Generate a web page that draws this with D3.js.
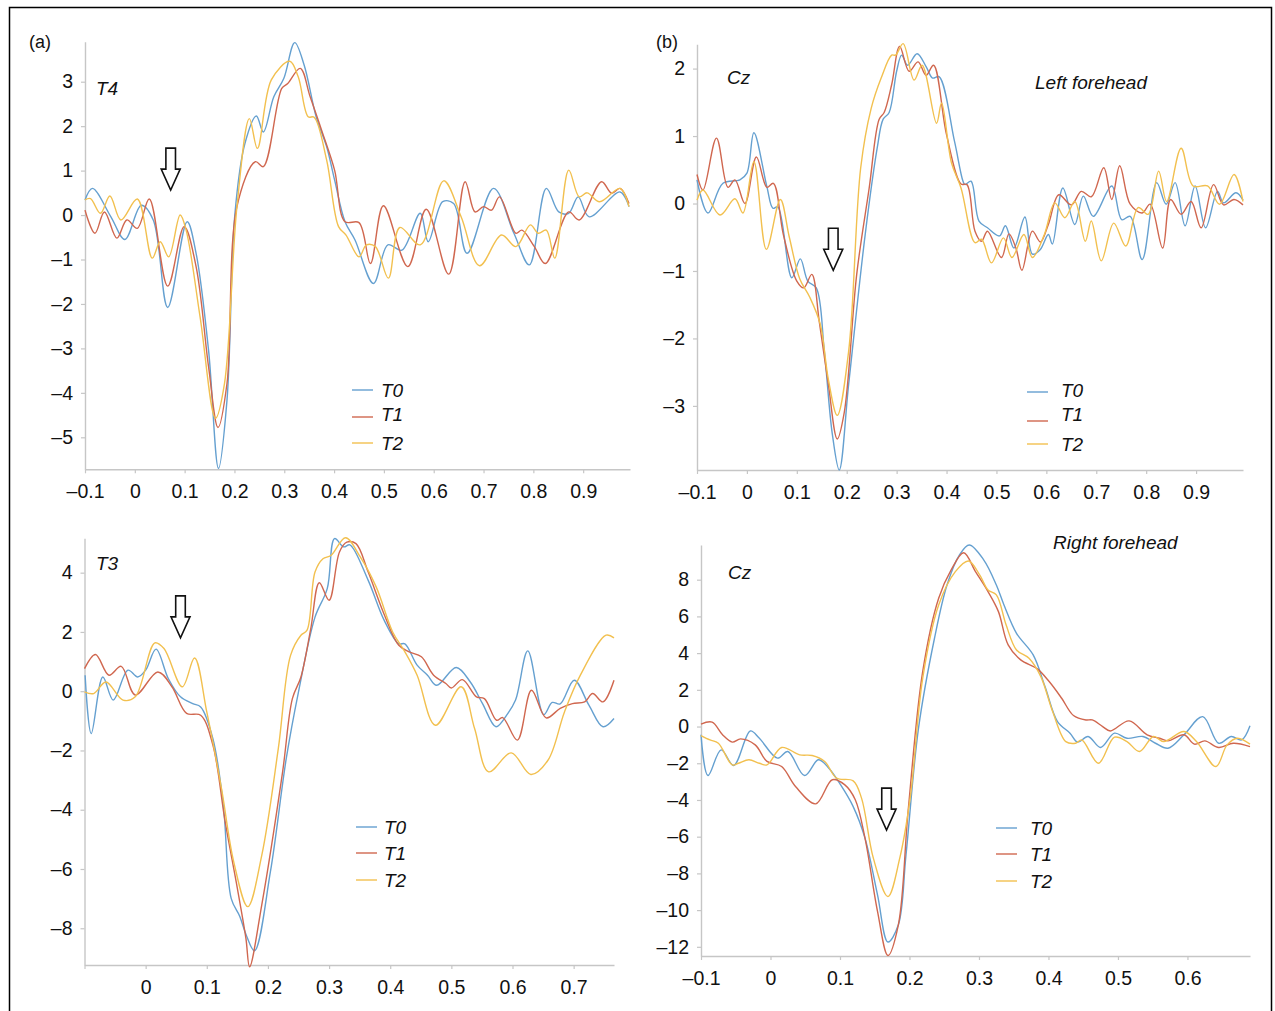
<!DOCTYPE html>
<html>
<head>
<meta charset="utf-8">
<script src="https://cdn.jsdelivr.net/npm/d3@7/dist/d3.min.js"></script>
<style>
  html, body { margin: 0; padding: 0; background: #fff; }
  svg { display: block; font-family: "Liberation Sans", Arial, sans-serif; }
</style>
</head>
<body>
<svg id="chart" width="1275" height="1011"></svg>
<script>
// ---------------- DATA ----------------
const seriesNames = ["T0", "T1", "T2"];

// Panel (a) T4
const aT0 = [[-0.1,0.34],[-0.085,0.6],[-0.048,-0.04],[-0.02,-0.55],[0.013,0.22],[0.037,-0.11],[0.066,-2.08],[0.105,-0.15],[0.123,-0.86],[0.148,-3.04],[0.168,-5.7],[0.185,-4.17],[0.201,0.04],[0.221,1.61],[0.244,2.23],[0.258,1.87],[0.279,2.66],[0.299,3.07],[0.321,3.88],[0.34,3.37],[0.364,2.21],[0.385,1.54],[0.401,0.79],[0.422,-0.15],[0.442,-0.56],[0.479,-1.54],[0.508,-0.67],[0.536,-0.79],[0.573,0.04],[0.589,-0.6],[0.618,0.3],[0.64,0.26],[0.667,-0.86],[0.72,0.6],[0.761,-0.41],[0.792,-1.12],[0.826,0.6],[0.851,0.07],[0.871,0.04],[0.89,0.41],[0.912,-0.04],[0.974,0.52],[0.992,0.19]];
const aT1 = [[-0.1,0.11],[-0.08,-0.41],[-0.061,0.07],[-0.036,-0.52],[-0.016,-0.11],[0.005,-0.3],[0.029,0.36],[0.066,-1.6],[0.099,-0.26],[0.123,-1.16],[0.148,-3.41],[0.167,-4.78],[0.185,-3.79],[0.205,0.19],[0.242,1.2],[0.258,1.09],[0.295,2.85],[0.307,2.96],[0.332,3.3],[0.352,2.66],[0.377,1.84],[0.401,1.01],[0.422,-0.15],[0.45,-0.17],[0.473,-1.09],[0.499,0.21],[0.548,-1.16],[0.585,0.13],[0.63,-1.33],[0.663,0.75],[0.683,0.07],[0.7,0.19],[0.716,0.11],[0.732,0.41],[0.765,-0.41],[0.777,-0.34],[0.802,-0.71],[0.824,-1.09],[0.871,0.07],[0.892,-0.11],[0.937,0.75],[0.957,0.49],[0.974,0.6],[0.992,0.26]];
const aT2 = [[-0.1,0.34],[-0.089,0.37],[-0.069,0.04],[-0.05,0.43],[-0.028,-0.11],[0.005,0.36],[0.035,-0.97],[0.051,-0.6],[0.068,-0.94],[0.091,0.0],[0.103,-0.34],[0.131,-2.29],[0.162,-4.57],[0.18,-3.79],[0.205,0.19],[0.23,2.17],[0.246,1.5],[0.274,3.04],[0.311,3.46],[0.328,3.11],[0.348,2.21],[0.36,2.2],[0.385,1.24],[0.409,-0.26],[0.424,-0.45],[0.45,-0.94],[0.465,-0.67],[0.483,-0.71],[0.509,-1.42],[0.532,-0.28],[0.573,-0.67],[0.62,0.77],[0.655,-0.04],[0.692,-1.14],[0.736,-0.45],[0.765,-0.71],[0.794,-0.22],[0.81,-0.41],[0.826,-0.34],[0.843,-0.97],[0.871,1.01],[0.892,0.41],[0.908,0.5],[0.933,0.3],[0.974,0.6],[0.992,0.19]];

// Panel (b) Cz, left forehead
const bT0 = [[-0.1,0.35],[-0.078,-0.14],[-0.048,0.3],[-0.014,0.35],[0.0,0.45],[0.014,1.05],[0.04,0.25],[0.052,-0.07],[0.062,-0.05],[0.09,-1.1],[0.107,-0.82],[0.122,-1.15],[0.139,-1.25],[0.155,-2.18],[0.171,-3.41],[0.185,-3.95],[0.204,-2.67],[0.237,-0.46],[0.261,0.82],[0.273,1.25],[0.285,1.35],[0.3,1.96],[0.31,2.2],[0.322,2.05],[0.341,2.22],[0.359,2.03],[0.372,1.86],[0.385,1.88],[0.416,0.92],[0.433,0.33],[0.437,0.28],[0.449,0.33],[0.465,-0.26],[0.482,-0.36],[0.506,-0.48],[0.518,-0.33],[0.535,-0.66],[0.557,-0.2],[0.572,-0.75],[0.588,-0.68],[0.604,-0.46],[0.612,-0.6],[0.633,0.23],[0.657,-0.31],[0.674,0.11],[0.694,-0.19],[0.731,0.26],[0.751,-0.24],[0.768,-0.19],[0.792,-0.83],[0.821,0.31],[0.84,-0.01],[0.858,0.31],[0.878,-0.33],[0.898,0.26],[0.919,-0.36],[0.943,0.18],[0.955,0.01],[0.98,0.16],[0.994,0.05]];
const bT1 = [[-0.1,0.43],[-0.088,0.2],[-0.061,0.97],[-0.038,0.24],[-0.024,0.35],[-0.004,0.0],[0.019,0.69],[0.04,0.24],[0.053,0.3],[0.073,-0.46],[0.1,-1.15],[0.114,-1.25],[0.13,-1.05],[0.145,-1.75],[0.163,-2.67],[0.181,-3.49],[0.195,-3.1],[0.22,-1.05],[0.245,0.23],[0.265,1.25],[0.275,1.35],[0.29,1.76],[0.306,2.33],[0.325,1.96],[0.343,2.1],[0.359,1.9],[0.374,2.05],[0.4,1.02],[0.429,0.29],[0.441,0.28],[0.457,-0.41],[0.47,-0.56],[0.482,-0.41],[0.51,-0.8],[0.525,-0.45],[0.539,-0.66],[0.551,-0.99],[0.572,-0.41],[0.588,-0.57],[0.604,-0.31],[0.625,0.13],[0.65,-0.02],[0.67,0.18],[0.69,0.1],[0.715,0.53],[0.731,0.06],[0.747,0.56],[0.768,-0.01],[0.792,-0.14],[0.808,-0.01],[0.833,-0.66],[0.849,0.06],[0.87,-0.16],[0.89,0.03],[0.91,-0.36],[0.935,0.28],[0.955,-0.02],[0.976,0.06],[0.994,-0.02]];
const bT2 = [[-0.1,0.05],[-0.088,0.2],[-0.054,-0.17],[-0.024,0.07],[-0.008,-0.14],[0.014,0.62],[0.039,-0.68],[0.067,0.06],[0.085,-0.5],[0.106,-1.12],[0.126,-1.39],[0.147,-1.79],[0.163,-2.6],[0.181,-3.14],[0.204,-2.18],[0.228,0.53],[0.249,1.41],[0.269,1.86],[0.29,2.2],[0.298,2.2],[0.313,2.37],[0.335,1.83],[0.351,2.05],[0.38,1.19],[0.39,1.49],[0.41,0.6],[0.429,0.23],[0.457,-0.58],[0.47,-0.53],[0.49,-0.88],[0.514,-0.51],[0.531,-0.8],[0.555,-0.46],[0.572,-0.8],[0.596,-0.46],[0.617,0.01],[0.637,-0.21],[0.657,0.03],[0.678,-0.56],[0.69,-0.26],[0.71,-0.85],[0.735,-0.29],[0.759,-0.63],[0.784,-0.06],[0.804,-0.16],[0.825,0.48],[0.841,0.03],[0.87,0.82],[0.894,0.26],[0.923,0.26],[0.947,-0.01],[0.976,0.43],[0.994,0.03]];

// Panel (c) T3
const cT0 = [[-0.099,0.54],[-0.089,-1.43],[-0.07,0.48],[-0.053,-0.3],[-0.029,0.71],[-0.013,0.48],[0.0,0.71],[0.017,1.42],[0.037,0.43],[0.057,-0.19],[0.077,-0.42],[0.09,-0.53],[0.11,-1.6],[0.127,-3.84],[0.14,-7.0],[0.154,-7.6],[0.164,-8.2],[0.178,-8.76],[0.204,-6.1],[0.23,-2.27],[0.25,-0.02],[0.277,2.5],[0.297,3.46],[0.309,5.15],[0.324,4.87],[0.334,4.94],[0.364,3.74],[0.39,2.4],[0.414,1.6],[0.424,1.6],[0.444,0.88],[0.461,0.54],[0.476,0.2],[0.508,0.8],[0.531,0.31],[0.551,-0.42],[0.573,-1.2],[0.591,-0.79],[0.605,-0.3],[0.625,1.36],[0.651,-0.79],[0.665,-0.38],[0.678,-0.43],[0.701,0.37],[0.725,-0.47],[0.748,-1.2],[0.766,-0.92]];
const cT1 = [[-0.1,0.76],[-0.082,1.24],[-0.06,0.54],[-0.04,0.84],[-0.017,-0.13],[0.02,0.65],[0.043,0.15],[0.067,-0.75],[0.09,-0.81],[0.11,-1.82],[0.13,-4.4],[0.15,-6.65],[0.164,-8.34],[0.17,-9.3],[0.19,-7.2],[0.224,-2.72],[0.24,-0.25],[0.254,0.48],[0.27,2.1],[0.284,3.66],[0.3,3.07],[0.317,4.7],[0.329,5.03],[0.344,4.98],[0.364,4.02],[0.39,2.6],[0.414,1.55],[0.431,1.33],[0.451,1.16],[0.471,0.54],[0.491,0.26],[0.5,0.11],[0.518,0.39],[0.541,-0.19],[0.554,-0.25],[0.574,-0.98],[0.584,-0.89],[0.608,-1.65],[0.631,0.03],[0.655,-0.9],[0.678,-0.58],[0.698,-0.42],[0.718,-0.36],[0.731,-0.08],[0.748,-0.36],[0.766,0.37]];
const cT2 = [[-0.1,-0.02],[-0.085,-0.08],[-0.065,0.31],[-0.037,-0.3],[-0.017,-0.19],[0.015,1.63],[0.03,1.44],[0.06,0.15],[0.08,1.12],[0.1,-0.7],[0.124,-3.28],[0.144,-5.75],[0.167,-7.27],[0.19,-5.53],[0.217,-1.93],[0.237,1.21],[0.254,1.89],[0.264,2.06],[0.277,4.02],[0.29,4.47],[0.303,4.58],[0.327,5.18],[0.351,4.53],[0.377,3.52],[0.404,2.0],[0.424,1.33],[0.444,0.54],[0.474,-1.15],[0.516,0.15],[0.538,-1.26],[0.561,-2.72],[0.598,-2.08],[0.63,-2.81],[0.658,-2.33],[0.685,-0.7],[0.711,0.54],[0.753,1.89],[0.766,1.8]];

// Panel (d) Cz, right forehead
const dT0 = [[-0.1,-0.45],[-0.09,-2.67],[-0.071,-1.27],[-0.053,-2.12],[-0.029,-0.24],[-0.016,-0.64],[0.01,-1.72],[0.025,-1.36],[0.049,-2.67],[0.069,-1.81],[0.084,-2.27],[0.101,-3.18],[0.119,-4.36],[0.136,-6.08],[0.154,-9.17],[0.169,-11.74],[0.184,-10.8],[0.195,-6.99],[0.213,-0.09],[0.236,4.81],[0.254,7.71],[0.272,9.35],[0.286,9.89],[0.307,9.07],[0.325,7.71],[0.336,6.62],[0.354,5.08],[0.378,3.9],[0.395,2.18],[0.413,0.27],[0.431,-0.36],[0.442,-0.85],[0.457,-0.54],[0.475,-1.14],[0.495,-0.36],[0.513,-0.64],[0.536,-0.54],[0.554,-0.91],[0.572,-1.18],[0.595,-0.45],[0.622,0.54],[0.645,-0.91],[0.663,-0.54],[0.678,-0.73],[0.69,0.04]];
const dT1 = [[-0.1,0.13],[-0.084,0.24],[-0.069,-0.45],[-0.055,-0.85],[-0.043,-0.67],[-0.022,-1.0],[-0.005,-1.9],[0.016,-2.18],[0.036,-3.27],[0.065,-4.21],[0.089,-2.9],[0.107,-3.18],[0.122,-3.99],[0.136,-6.08],[0.154,-10.07],[0.169,-12.47],[0.184,-10.8],[0.198,-4.63],[0.219,2.99],[0.242,6.99],[0.26,8.53],[0.278,9.47],[0.295,8.44],[0.313,7.35],[0.328,6.26],[0.342,4.45],[0.36,3.63],[0.384,3.14],[0.401,2.45],[0.419,1.54],[0.436,0.6],[0.454,0.36],[0.463,0.36],[0.478,0.0],[0.489,-0.24],[0.516,0.31],[0.542,-0.45],[0.56,-0.64],[0.572,-0.78],[0.595,-0.45],[0.61,-0.96],[0.625,-0.78],[0.645,-1.14],[0.666,-0.91],[0.69,-1.09]];
const dT2 = [[-0.1,-0.49],[-0.087,-0.73],[-0.075,-0.91],[-0.055,-2.09],[-0.046,-2.0],[-0.031,-1.81],[-0.016,-2.0],[-0.005,-2.09],[0.016,-1.14],[0.042,-1.54],[0.06,-1.58],[0.078,-1.9],[0.095,-2.81],[0.119,-2.96],[0.131,-3.9],[0.148,-7.17],[0.169,-9.26],[0.186,-7.17],[0.201,-3.9],[0.219,2.63],[0.242,6.62],[0.266,8.44],[0.285,9.02],[0.301,8.26],[0.313,7.44],[0.325,7.17],[0.339,5.54],[0.354,4.17],[0.372,3.72],[0.389,2.72],[0.406,0.82],[0.425,-0.82],[0.439,-0.91],[0.448,-0.73],[0.472,-2.0],[0.495,-0.58],[0.513,-0.82],[0.531,-1.36],[0.551,-0.54],[0.566,-0.82],[0.595,-0.27],[0.613,-0.82],[0.641,-2.18],[0.657,-1.0],[0.672,-0.64],[0.69,-0.96]];

// Axis ticks
const xTicksAB = [-0.1, 0, 0.1, 0.2, 0.3, 0.4, 0.5, 0.6, 0.7, 0.8, 0.9];
const xTicksC  = [-0.1, 0, 0.1, 0.2, 0.3, 0.4, 0.5, 0.6, 0.7];
const xTicksD  = [-0.1, 0, 0.1, 0.2, 0.3, 0.4, 0.5, 0.6];
const yTicksA  = [-5, -4, -3, -2, -1, 0, 1, 2, 3];
const yTicksB  = [-3, -2, -1, 0, 1, 2];
const yTicksC  = [-8, -6, -4, -2, 0, 2, 4];
const yTicksD  = [-12, -10, -8, -6, -4, -2, 0, 2, 4, 6, 8];

// Axis extents (data units)
const xDomA = [-0.1, 0.994], yDomA = [-5.72, 3.9];
const xDomB = [-0.1, 0.994], yDomB = [-3.95, 2.36];
const xDomC = [-0.1, 0.766], yDomC = [-9.24, 5.16];
const xDomD = [-0.1, 0.69],  yDomD = [-12.5, 9.89];

// Arrow annotations (tip, in data units)
const arrowA = [0.072, 0.56];
const arrowB = [0.173, -0.99];
const arrowC = [0.057, 1.8];
const arrowD = [0.167, -5.64];

// ---------------- LAYOUT ----------------
const colors = { T0: "#65a0d0", T1: "#d0674f", T2: "#f2c04f" };
const svg = d3.select("#chart");

const panels = [
  { series: [aT0, aT1, aT2], xDom: xDomA, yDom: yDomA, xTicks: xTicksAB, yTicks: yTicksA, hideX: [],
    box: [85, 630, 469.3, 41.7], arrow: arrowA,
    labels: [{t: "(a)", x: 29, y: 48, it: false}, {t: "T4", x: 96, y: 95, it: true}],
    legend: { x: 352, textX: 381, ys: [390, 414, 443], off: [0, 3, 0] } },
  { series: [bT0, bT1, bT2], xDom: xDomB, yDom: yDomB, xTicks: xTicksAB, yTicks: yTicksB, hideX: [],
    box: [697, 1243, 470, 44.3], arrow: arrowB,
    labels: [{t: "(b)", x: 656, y: 48, it: false}, {t: "Cz", x: 727, y: 84, it: true}, {t: "Left forehead", x: 1035, y: 89, it: true}],
    legend: { x: 1027, textX: 1061, ys: [390, 414, 444], off: [2, 7, 0] } },
  { series: [cT0, cT1, cT2], xDom: xDomC, yDom: yDomC, xTicks: xTicksC, yTicks: yTicksC, hideX: [-0.1],
    box: [84.5, 614, 965, 538.3], arrow: arrowC,
    labels: [{t: "T3", x: 96, y: 570, it: true}],
    legend: { x: 356, textX: 384, ys: [827, 853, 880], off: [0, 0, 0] } },
  { series: [dT0, dT1, dT2], xDom: xDomD, yDom: yDomD, xTicks: xTicksD, yTicks: yTicksD, hideX: [],
    box: [701, 1250, 956, 545], arrow: arrowD,
    labels: [{t: "Cz", x: 728, y: 579, it: true}, {t: "Right forehead", x: 1053, y: 549, it: true}],
    legend: { x: 996, textX: 1030, ys: [828, 854, 881], off: [0, 0, 0] } }
];

const fmt = v => {
  const s = (Math.round(v * 100) / 100).toString();
  return s.replace("-", "\u2013");
};

// Outer frame
svg.append("rect").attr("x", 9.5).attr("y", 7.5).attr("width", 1262).attr("height", 1012)
  .attr("fill", "none").attr("stroke", "#000").attr("stroke-width", 1.5);

panels.forEach(p => {
  const [xl, xr, yb, yt] = p.box;
  const x = d3.scaleLinear().domain(p.xDom).range([xl, xr]);
  const y = d3.scaleLinear().domain(p.yDom).range([yb, yt]);
  const g = svg.append("g");

  // axes
  const xa = g.append("g").attr("transform", `translate(0,${yb})`)
    .call(d3.axisBottom(x).tickValues(p.xTicks).tickSize(4).tickSizeOuter(0).tickPadding(11)
      .tickFormat(v => p.hideX.some(h => Math.abs(h - v) < 1e-9) ? "" : fmt(v)));
  const ya = g.append("g").attr("transform", `translate(${xl},0)`)
    .call(d3.axisLeft(y).tickValues(p.yTicks).tickSize(4).tickSizeOuter(0).tickPadding(8).tickFormat(fmt));
  [xa, ya].forEach(a => {
    a.select(".domain").attr("stroke", "#c6c6c6").attr("stroke-width", 1.4);
    a.selectAll(".tick line").attr("stroke", "#c6c6c6").attr("stroke-width", 1.2);
    a.selectAll(".tick text").attr("fill", "#111").style("font-size", "19.5px")
      .style("font-family", "'Liberation Sans', Arial, sans-serif");
  });

  // lines
  const line = d3.line().x(d => x(d[0])).y(d => y(d[1])).curve(d3.curveCatmullRom.alpha(0.5));
  p.series.forEach((s, i) => {
    g.append("path").datum(s).attr("d", line).attr("fill", "none")
      .attr("stroke", colors[seriesNames[i]]).attr("stroke-width", 1.4)
      .attr("stroke-linejoin", "round");
  });

  // labels
  p.labels.forEach(l => {
    g.append("text").attr("x", l.x).attr("y", l.y).text(l.t)
      .style("font-size", l.it ? "19px" : "18px").style("font-style", l.it ? "italic" : "normal")
      .attr("fill", "#111");
  });

  // legend
  seriesNames.forEach((n, i) => {
    const ly = p.legend.ys[i];
    g.append("line").attr("x1", p.legend.x).attr("x2", p.legend.x + 21)
      .attr("y1", ly + p.legend.off[i]).attr("y2", ly + p.legend.off[i])
      .attr("stroke", colors[n]).attr("stroke-width", 1.4);
    g.append("text").attr("x", p.legend.textX).attr("y", ly + 7).text(n)
      .style("font-size", "19px").style("font-style", "italic").attr("fill", "#111");
  });

  // arrow (hollow, pointing down, tip at data point)
  const tx = x(p.arrow[0]), ty = y(p.arrow[1]);
  const hw = 9.5, sw = 4.8, hl = 21, sl = 21;
  const pts = [[tx - sw, ty - hl - sl], [tx + sw, ty - hl - sl], [tx + sw, ty - hl], [tx + hw, ty - hl],
               [tx, ty], [tx - hw, ty - hl], [tx - sw, ty - hl]];
  g.append("path").attr("d", "M" + pts.map(q => q.join(",")).join("L") + "Z")
    .attr("fill", "#fff").attr("stroke", "#111").attr("stroke-width", 1.6).attr("stroke-linejoin", "miter");
});
</script>
</body>
</html>
